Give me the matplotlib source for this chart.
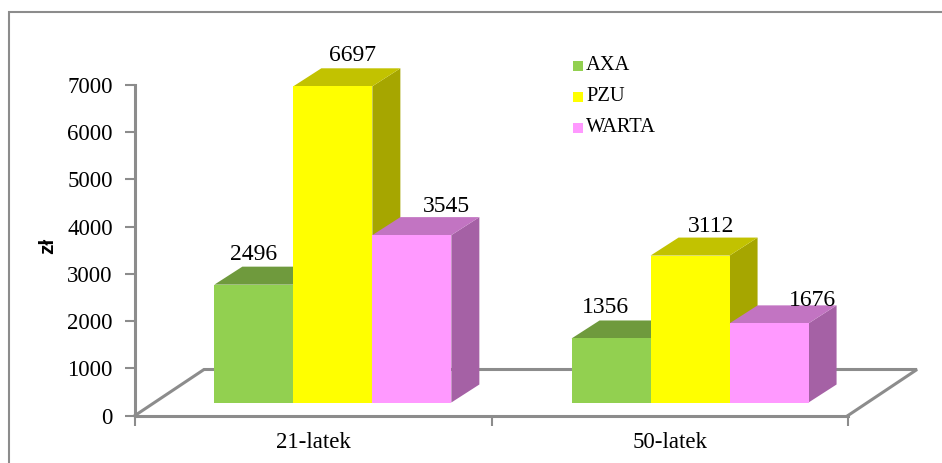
import matplotlib
matplotlib.use('agg')

import matplotlib.pyplot as plt
from matplotlib.patches import Polygon, Rectangle
from matplotlib.lines import Line2D

groups = ['21-latek', '50-latek']
series_names = ['AXA', 'PZU', 'WARTA']
axa = [2496, 1356]
pzu = [6697, 3112]
warta = [3545, 1676]
y_ticks = [0, 1000, 2000, 3000, 4000, 5000, 6000, 7000]

W, H = 942, 463
front_cols = ['#92d050', '#ffff00', '#ff99ff']
top_cols = ['#6f9a3d', '#c2c200', '#c274c2']
side_cols = ['#648a36', '#a6a600', '#a561a5']
GREY = '#8c8c8c'

# value labels do not sit evenly over the bars in the original, px from bar centre
label_shift_x = [[0, 20, 35], [-6, 21, 43]]
label_shift_y = [[0, 0, -2], [0, -1, -8]]

plt.rcParams['font.family'] = ['Liberation Serif', 'DejaVu Serif']

fig = plt.figure(figsize=(W / 100, H / 100), dpi=100)

# outer frame, only top and left are there
fig.add_artist(Line2D([8.5 / W, 8.5 / W, 1], [0, 1 - 11.5 / H, 1 - 11.5 / H], transform=fig.transFigure,
                      color=GREY, lw=1.5, solid_joinstyle='miter'))

# axes box: x 0..2 is 135..848 px, y 0..7000 is 415.5..85 px
ax = fig.add_axes([135 / W, 1 - 415.5 / H, 713 / W, 330.5 / H])
ax.set_xlim(0, 2)
ax.set_ylim(0, 7000)
ax.patch.set_alpha(0)

px_x = 2 / 713.0
px_y = 7000 / 330.5
dx = 28 * px_x
dy = 18 * px_y
base = 13 * px_y
bar_w = 79 * px_x
centres = [0.555, 1.557]

# floor of the 3d box
floor_dx = 69 * px_x
floor_dy = 46 * px_y
ax.plot([0, floor_dx, 2 + floor_dx, 2], [0, floor_dy, floor_dy, 0], color=GREY, lw=2.2,
        clip_on=False, solid_joinstyle='miter', zorder=1)

series = [axa, pzu, warta]
for g in range(len(groups)):
    for s in range(len(series)):
        v = series[s][g]
        x0 = centres[g] + (s - 1.5) * bar_w
        x1 = x0 + bar_w
        y0 = base
        y1 = base + v
        z = 2 + g * 3 + s
        ax.add_patch(Polygon([(x1, y0), (x1 + dx, y0 + dy), (x1 + dx, y1 + dy), (x1, y1)],
                             facecolor=side_cols[s], edgecolor='none', clip_on=False, zorder=z))
        ax.add_patch(Polygon([(x0, y1), (x0 + dx, y1 + dy), (x1 + dx, y1 + dy), (x1, y1)],
                             facecolor=top_cols[s], edgecolor='none', clip_on=False, zorder=z))
        ax.add_patch(Rectangle((x0, y0), bar_w, v, facecolor=front_cols[s], edgecolor='none',
                               clip_on=False, zorder=z + 0.5))
        ax.text(x0 + bar_w / 2 + label_shift_x[g][s] * px_x, y1 + dy + (2 + label_shift_y[g][s]) * px_y,
                str(v), ha='center', va='bottom', fontsize=17, color='black', zorder=20, clip_on=False)

ax.set_xticks([0, 1, 2])
ax.set_xticklabels(['', '', ''])
for g in range(len(groups)):
    ax.text(g + 0.5, -27 * px_y, groups[g], ha='center', va='center', fontsize=16.5, clip_on=False)
ax.set_yticks(y_ticks)
ax.set_yticklabels([str(t) for t in y_ticks], fontsize=16.5)
ax.tick_params(axis='y', length=7, width=1.5, color=GREY, pad=9)
ax.tick_params(axis='x', length=7, width=1.5, color=GREY, direction='out')
for name in ['top', 'right']:
    ax.spines[name].set_visible(False)
for name in ['left', 'bottom']:
    ax.spines[name].set_color(GREY)
    ax.spines[name].set_linewidth(2.2)
fig.text(48 / W, 1 - 246 / H, 'zł', fontsize=15, fontweight='bold', family='Liberation Sans',
         rotation=90, ha='center', va='center')

# legend drawn by hand so the markers stay in their spots
leg_y = [65.5, 96.7, 127.5]
for i in range(len(series_names)):
    fig.add_artist(Rectangle((573 / W, 1 - (leg_y[i] + 5) / H), 10 / W, 10 / H,
                             transform=fig.transFigure, facecolor=front_cols[i], edgecolor='none'))
    fig.text(586 / W, 1 - leg_y[i] / H, series_names[i], fontsize=14.8, va='center', ha='left')

fig.savefig('out.png', dpi=100)
plt.close(fig)
